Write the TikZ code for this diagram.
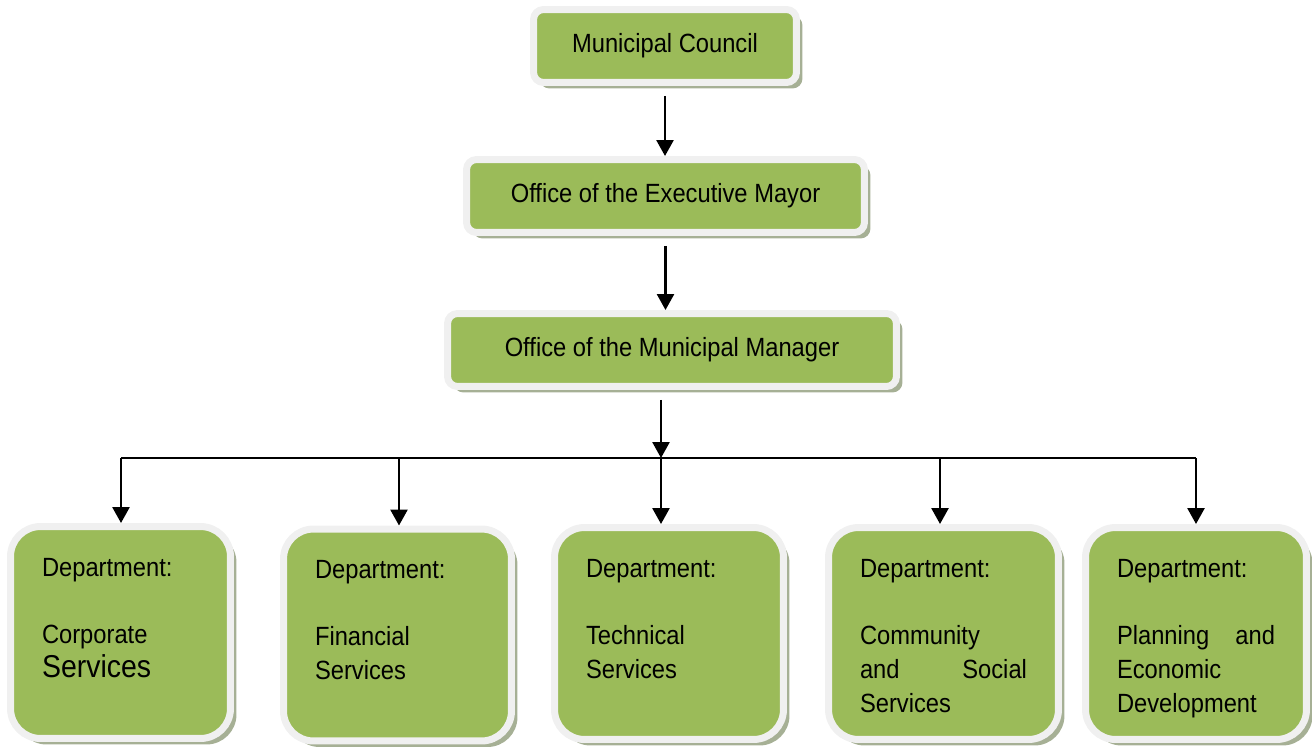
\documentclass[tikz,border=0pt]{standalone}
\usepackage{fontspec}
\setmainfont{Liberation Sans}[FakeStretch=0.9]
\usetikzlibrary{arrows.meta,shadows}
\definecolor{boxgreen}{HTML}{9BBB59}
\definecolor{boxrim}{HTML}{F0F0F0}
\definecolor{boxshade}{HTML}{A6B095}
\newcommand{\deptlabel}[2]{\parbox[c][2.98cm][t]{#1}{\raggedright #2}}
\begin{document}
\begin{tikzpicture}[x=0.02cm, y=-0.02cm,
  orgbox/.style={draw=boxrim, line width=0.14cm, fill=boxgreen,
    rounded corners=0.2cm, inner sep=0pt,
    drop shadow={shadow xshift=0.12cm, shadow yshift=-0.12cm,
      fill=boxshade, opacity=1},
    font=\fontsize{15}{19.3}\selectfont},
  deptbox/.style={orgbox, rounded corners=0.6cm, inner sep=0.63cm},
  feed/.style={line width=1.5pt, -{Triangle[length=0.32cm, width=0.34cm]}}]
\useasboundingbox (0,0) rectangle (1312,747);

% draw the offices
\node[orgbox, minimum width=5.26cm, minimum height=1.46cm] (council) at (665,46)
  {Municipal Council};
\node[orgbox, minimum width=7.96cm, minimum height=1.46cm] (mayor) at (665.5,196)
  {Office of the Executive Mayor};
\node[orgbox, minimum width=8.98cm, minimum height=1.46cm] (manager) at (672,350)
  {Office of the Municipal Manager};

% draw the departments
\node[deptbox] (corporate) at (120.5,632.5) {\deptlabel{3.14cm}{
  Department:\\[19pt]
  Corporate\\
  {\fontsize{18}{19.3}\selectfont Services}}};
\node[deptbox] (financial) at (397.5,635) {\deptlabel{3.30cm}{
  Department:\\[19pt]
  Financial\\
  Services}};
\node[deptbox] (technical) at (669,633.5) {\deptlabel{3.32cm}{
  Department:\\[19pt]
  Technical\\
  Services}};
\node[deptbox] (community) at (943.5,633.5) {\deptlabel{3.34cm}{
  Department:\\[19pt]
  Community\\
  and\hfill Social\\
  Services}};
\node[deptbox] (planning) at (1196,633.5) {\deptlabel{3.16cm}{
  Department:\\[19pt]
  Planning\hfill and\\
  Economic\\
  Development}};

% draw arrows between the offices
\draw[feed, shorten <=0.2cm] (council.south) -- (council.south |- mayor.north);
\draw[feed, shorten <=0.2cm] (mayor.south) -- (mayor.south |- manager.north);

% draw the horizontal line
\coordinate (busleft) at (121,458);
\coordinate (busright) at (1196,458);
\coordinate (hub) at (661,458);
\draw[line width=0.7pt] (busleft) -- (busright);
\draw[feed, shorten <=0.2cm] (manager.south -| hub) -- (hub);

% draw arrows down to the departments
\foreach \x/\d in {121/corporate,399/financial,661/technical,940/community,1196/planning}
{
  \coordinate (drop) at (\x,458);
  \draw[feed] (drop) -- (drop |- \d.north);
}
\end{tikzpicture}
\end{document}
